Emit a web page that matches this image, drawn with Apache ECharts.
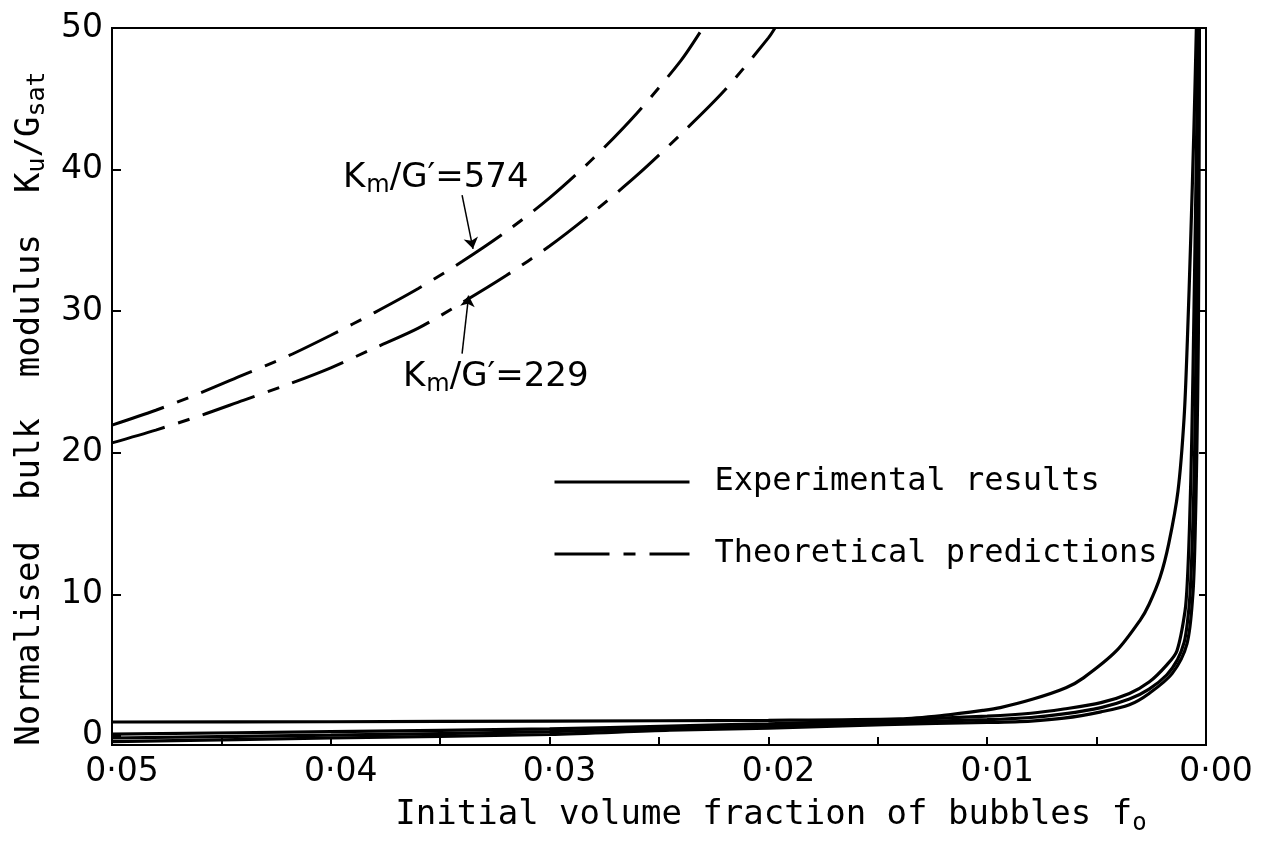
<!DOCTYPE html>
<html><head><meta charset="utf-8">
<script src="https://cdn.jsdelivr.net/npm/echarts@6/dist/echarts.min.js"></script>
<style>html,body{margin:0;padding:0;background:#fff}#c{width:1271px;height:841px}</style>
</head><body><div id="c"></div>
<script>
// ---- axes ----
const xTickValues = [0, 0.005, 0.01, 0.015, 0.02, 0.025, 0.03, 0.035, 0.04, 0.045, 0.05];
const xLabelValues = [0, 0.01, 0.02, 0.03, 0.04, 0.05];
const yLabelValues = [0, 10, 20, 30, 40, 50];
const yTickValues = [0, 10, 20, 30, 40];
const yRightTickValues = [10, 20, 30, 40];

// ---- theoretical predictions (x = f0, y = Ku/Gsat) ----
const theory574 = [[0.05,21.95],[0.048,23.0],[0.046,24.2],[0.044,25.5],[0.042,26.8],[0.040,28.3],[0.038,29.9],[0.036,31.6],[0.034,33.5],[0.032,35.6],[0.030,38.0],[0.028,40.8],[0.026,44.0],[0.024,47.7],[0.023,50.0]];
const theory229 = [[0.05,20.7],[0.048,21.6],[0.046,22.6],[0.044,23.7],[0.042,24.8],[0.040,26.0],[0.038,27.4],[0.036,28.8],[0.034,30.6],[0.032,32.5],[0.030,34.6],[0.028,37.0],[0.026,39.6],[0.024,42.5],[0.022,45.6],[0.020,49.3],[0.0197,50.0]];

// ---- experimental results ----
const expA = [[0.05,0.98],[0.04,1.0],[0.03,1.05],[0.02,1.1],[0.014,1.2],[0.012,1.45],[0.0102,1.8],[0.0094,2.0],[0.0079,2.6],[0.0064,3.4],[0.0056,4.1],[0.0041,6.0],[0.0030,8.2],[0.0026,9.3],[0.0021,11.2],[0.0017,13.6],[0.00128,17.3],[0.0010,22.5],[0.00085,28.0],[0.0007,35.0],[0.00055,43.0],[0.00044,50.0]];
const expB = [[0.05,0.12],[0.04,0.3],[0.03,0.5],[0.0245,0.7],[0.02,0.85],[0.0147,1.1],[0.01,1.4],[0.008,1.6],[0.0065,1.9],[0.0048,2.35],[0.0035,3.0],[0.0026,3.8],[0.0018,5.0],[0.00133,6.0],[0.00096,8.8],[0.00085,11.0],[0.00075,15.0],[0.00065,21.0],[0.00055,30.0],[0.00045,40.0],[0.00036,50.0]];
const expC = [[0.05,-0.15],[0.04,0.05],[0.03,0.3],[0.0245,0.55],[0.02,0.7],[0.0147,0.95],[0.01,1.15],[0.008,1.3],[0.0065,1.55],[0.0048,2.0],[0.0035,2.6],[0.0026,3.3],[0.0018,4.3],[0.0013,5.4],[0.001,6.6],[0.00085,8.0],[0.00073,10.0],[0.00062,14.0],[0.00052,20.0],[0.00044,30.0],[0.00036,40.0],[0.0003,50.0]];
const expD = [[0.05,-0.4],[0.04,-0.15],[0.03,0.1],[0.0245,0.4],[0.02,0.55],[0.0147,0.8],[0.01,0.95],[0.008,1.05],[0.0065,1.25],[0.0048,1.7],[0.0035,2.2],[0.0026,3.0],[0.00155,4.4],[0.00087,6.5],[0.0006,10.0],[0.0005,14.0],[0.00042,20.0],[0.00035,28.0],[0.00032,38.0],[0.0003,50.0]];

// ---- annotation arrows (data coords: [start, tip]) ----
const arrow574 = [[0.0340, 38.2], [0.0335, 34.4]];
const arrow229 = [[0.0340, 27.0], [0.0337, 31.1]];

const FONT = 'DejaVu Sans';
const MONO = 'DejaVu Sans Mono';
const dashType = [55, 14, 12, 14];

function expSeries(data) {
  return { name: 'Experimental results', type: 'line', data: data, symbol: 'none', smooth: 0.3,
    lineStyle: { color: '#000', width: 3.2, type: 'solid' }, itemStyle: { color: '#000' }, z: 3 };
}
function theorySeries(data, arrow) {
  return { name: 'Theoretical predictions', type: 'line', data: data, symbol: 'none', smooth: 0.3,
    lineStyle: { color: '#000', width: 3, type: dashType }, itemStyle: { color: '#000' },
    markLine: { silent: true, symbol: ['none', 'arrow'], symbolSize: 11,
      label: { show: false },
      lineStyle: { color: '#000', width: 1.5, type: 'solid' },
      data: [[{ coord: arrow[0] }, { coord: arrow[1] }]] } };
}

const chart = echarts.init(document.getElementById('c'), null, { renderer: 'canvas' });
chart.setOption({
  animation: false,
  backgroundColor: '#fff',
  grid: { left: 112, right: 65, top: 28, bottom: 88, show: true, borderColor: '#000', borderWidth: 2 },
  legend: {
    orient: 'vertical', left: 553, top: 466, padding: 0, itemWidth: 135, itemHeight: 30, itemGap: 40,
    selectedMode: false,
    itemStyle: { opacity: 0 },
    lineStyle: { width: 3 },
    textStyle: { fontFamily: MONO, fontSize: 32, color: '#000', padding: [0, 0, 0, 20] },
    data: ['Experimental results', 'Theoretical predictions']
  },
  xAxis: {
    type: 'value', min: 0, max: 0.05, inverse: true,
    name: 'Initial volume fraction of bubbles f{o|o}', nameLocation: 'middle', nameGap: 47,
    nameTextStyle: { fontFamily: MONO, fontSize: 34, color: '#000', lineHeight: 40, padding: [0, 0, 0, 224],
      rich: { o: { fontFamily: MONO, fontSize: 24, lineHeight: 24, padding: [18, 0, 0, 0], color: '#000' } } },
    axisLine: { onZero: false, lineStyle: { color: '#000', width: 2 } },
    axisTick: { inside: true, length: 8, customValues: xTickValues, lineStyle: { color: '#000', width: 2 } },
    axisLabel: { customValues: xLabelValues, fontFamily: FONT, fontSize: 33, color: '#000', margin: 11,
      padding: [0, 0, 0, 20], formatter: v => v.toFixed(2).replace('.', '\u00b7') },
    splitLine: { show: false }
  },
  yAxis: [{
    type: 'value', min: -0.65, max: 50, position: 'left',
    name: 'Normalised  bulk  modulus  K{u|u}/G{s|sat}', nameLocation: 'middle', nameGap: 48, nameRotate: 90,
    nameTextStyle: { fontFamily: MONO, fontSize: 34, color: '#000', lineHeight: 40, padding: [0, 44, 0, 0],
      rich: { u: { fontFamily: MONO, fontSize: 25, lineHeight: 25, padding: [14, 0, 0, 0], color: '#000' },
              s: { fontFamily: MONO, fontSize: 25, lineHeight: 25, padding: [14, 0, 0, 0], color: '#000' } } },
    axisLine: { show: true, onZero: false, lineStyle: { color: '#000', width: 2 } },
    axisTick: { show: true, inside: true, length: 9, customValues: yTickValues, lineStyle: { color: '#000', width: 2 } },
    axisLabel: { customValues: yLabelValues, fontFamily: FONT, fontSize: 33, color: '#000', margin: 9 },
    splitLine: { show: false }
  }, {
    type: 'value', min: -0.65, max: 50, position: 'right',
    axisLine: { show: true, onZero: false, lineStyle: { color: '#000', width: 2 } },
    axisTick: { show: true, inside: true, length: 7, customValues: yRightTickValues, lineStyle: { color: '#000', width: 2 } },
    axisLabel: { show: false },
    splitLine: { show: false }
  }],
  graphic: [
    { type: 'text', left: 343, top: 158, silent: true,
      style: { text: 'K{m|m}/G\u2032=574', fontFamily: FONT, fontSize: 34, fill: '#000', lineHeight: 40,
        rich: { m: { fontFamily: FONT, fontSize: 24, lineHeight: 24, padding: [16, 0, 0, 1], fill: '#000' } } } },
    { type: 'text', left: 403, top: 357, silent: true,
      style: { text: 'K{m|m}/G\u2032=229', fontFamily: FONT, fontSize: 34, fill: '#000', lineHeight: 40,
        rich: { m: { fontFamily: FONT, fontSize: 24, lineHeight: 24, padding: [16, 0, 0, 1], fill: '#000' } } } }
  ],
  series: [
    expSeries(expA), expSeries(expB), expSeries(expC), expSeries(expD),
    theorySeries(theory574, arrow574), theorySeries(theory229, arrow229)
  ]
});
</script></body></html>
